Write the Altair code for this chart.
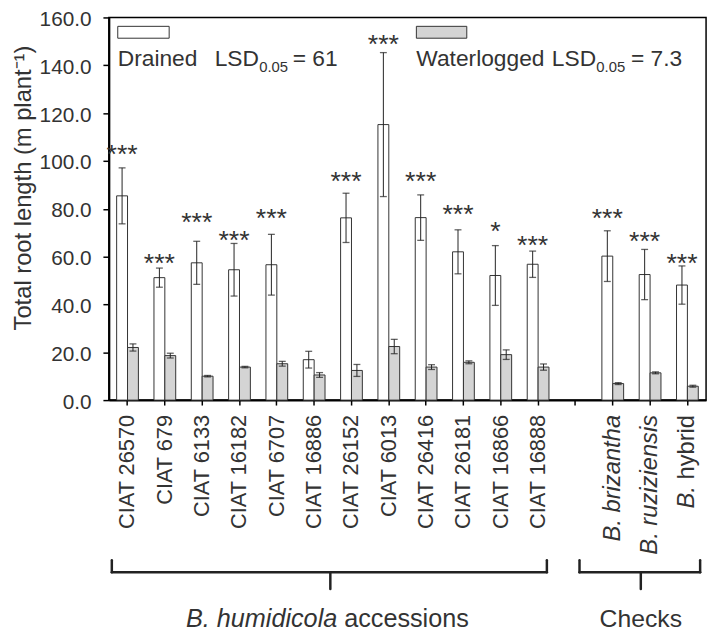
import altair as alt
import pandas as pd

categories = ["CIAT 26570", "CIAT 679", "CIAT 6133", "CIAT 16182", "CIAT 6707",
              "CIAT 16886", "CIAT 26152", "CIAT 6013", "CIAT 26416", "CIAT 26181",
              "CIAT 16866", "CIAT 16888", "B. brizantha", "B. ruziziensis", "B. hybrid"]
slots = categories[:12] + ["gap"] + categories[12:]

drained = [85.4, 51.2, 57.4, 54.5, 56.6, 16.9, 76.2, 115.2, 76.3, 62.0, 52.1, 56.8, 60.2, 52.5, 48.1]
drained_se = [11.7, 4.0, 9.0, 11.0, 12.7, 3.5, 10.3, 30.1, 9.5, 9.2, 12.5, 5.5, 10.6, 10.5, 8.0]
waterlogged = [22.0, 18.6, 10.0, 13.8, 15.2, 10.5, 12.4, 22.4, 13.8, 15.8, 19.0, 13.8, 6.9, 11.4, 5.8]
waterlogged_se = [1.5, 1.0, 0.3, 0.3, 1.0, 1.0, 2.5, 3.0, 1.0, 0.6, 2.0, 1.3, 0.4, 0.4, 0.4]
stars = ["***"] * 5 + [""] + ["***"] * 4 + ["*", "***"] + ["***"] * 3
star_y = [105.4, 59.8, 77.0, 69.5, 78.4, 0, 94.0, 151.2, 93.9, 80.4, 73.3, 67.3, 78.4, 69.0, 59.8]

treatments = ["Drained", "Waterlogged"]
FONT = "Liberation Sans"
TXT = "#333333"
W, H = 604, 387

rows = []
for c, d, ds, w, ws in zip(categories, drained, drained_se, waterlogged, waterlogged_se):
    rows.append({"category": c, "treatment": "Drained", "value": d, "lo": d - ds, "hi": d + ds})
    rows.append({"category": c, "treatment": "Waterlogged", "value": w, "lo": w - ws, "hi": w + ws})
df = pd.DataFrame(rows)

star_df = pd.DataFrame({"category": categories, "treatment": "Drained",
                        "stars": stars, "y": star_y})
star_df = star_df[star_df["stars"] != ""]

xscale = alt.Scale(domain=slots, paddingInner=0, paddingOuter=0)
xoff = alt.XOffset("treatment:N", scale=alt.Scale(domain=treatments, paddingOuter=0.716, paddingInner=0))
yscale = alt.Scale(domain=[0, 160], nice=False)

x_enc = alt.X("category:N", scale=xscale,
              axis=alt.Axis(title=None, labels=False, ticks=True, tickSize=5, tickColor="black",
                            tickWidth=1.5, domainColor="black", domainWidth=2, grid=False))
y_enc = alt.Y("value:Q", scale=yscale,
              axis=alt.Axis(title="Total root length (m plant⁻¹)", values=list(range(0, 161, 20)),
                            format=".1f", grid=False, tickSize=6, tickColor="black", tickWidth=1.5,
                            domainColor="black", domainWidth=2, labelFont=FONT, labelFontSize=21,
                            labelColor=TXT, labelPadding=12, labelOffset=2,
                            titleFont=FONT, titleFontSize=24,
                            titleFontWeight="normal", titleColor=TXT, titleAngle=270,
                            titleX=-86, titleY=172, titleAlign="center", titleBaseline="middle"))

bars = alt.Chart(df).mark_bar(stroke="#333333", strokeWidth=1).encode(
    x=x_enc, xOffset=xoff, y=y_enc,
    fill=alt.Fill("treatment:N", scale=alt.Scale(domain=treatments, range=["white", "#d4d4d4"]), legend=None),
)

err = alt.Chart(df).mark_rule(color="#222222", strokeWidth=1).encode(
    x=alt.X("category:N", scale=xscale), xOffset=xoff,
    y=alt.Y("lo:Q", scale=yscale), y2="hi:Q")
cap_hi = alt.Chart(df).mark_tick(color="#222222", size=7, thickness=1.3).encode(
    x=alt.X("category:N", scale=xscale), xOffset=xoff, y=alt.Y("hi:Q", scale=yscale))
cap_lo = alt.Chart(df).mark_tick(color="#222222", size=7, thickness=1.3).encode(
    x=alt.X("category:N", scale=xscale), xOffset=xoff, y=alt.Y("lo:Q", scale=yscale))

star_text = alt.Chart(star_df).mark_text(font=FONT, fontSize=27, fill="#333333",
                                         baseline="alphabetic", dy=15).encode(
    x=alt.X("category:N", scale=xscale), xOffset=xoff, y=alt.Y("y:Q", scale=yscale), text="stars:N")

# x tick labels
lab_df = pd.DataFrame({"category": categories,
                       "label": categories[:14] + ["hybrid"]})
LY = H + 15
xlab_ciat = alt.Chart(lab_df.iloc[:12]).mark_text(
    font=FONT, fontSize=22, color=TXT, angle=270, align="right", baseline="middle").encode(
    x=alt.X("category:N", scale=xscale), y=alt.value(LY), text="label:N")
xlab_ital = alt.Chart(lab_df.iloc[12:14]).mark_text(
    font=FONT, fontSize=24, fontStyle="italic", color=TXT, angle=270, align="right", baseline="middle").encode(
    x=alt.X("category:N", scale=xscale), y=alt.value(LY), text="label:N")
xlab_hyb = alt.Chart(lab_df.iloc[14:]).mark_text(
    font=FONT, fontSize=24, color=TXT, angle=270, align="right", baseline="middle").encode(
    x=alt.X("category:N", scale=xscale), y=alt.value(LY), text="label:N")
b_df = pd.DataFrame({"category": ["B. hybrid"], "label": ["B."]})
xlab_b = alt.Chart(b_df).mark_text(
    font=FONT, fontSize=24, fontStyle="italic", color=TXT, angle=270, align="right", baseline="middle").encode(
    x=alt.X("category:N", scale=xscale), y=alt.value(LY + 72), text="label:N")

one = pd.DataFrame({"a": [0]})

def rule(x1, x2, y1, y2, w=2.5):
    return alt.Chart(one).mark_rule(color="#222222", strokeWidth=w, strokeCap="round").encode(
        x=alt.value(x1), x2=alt.value(x2), y=alt.value(y1), y2=alt.value(y2))

def bracket(x1, x2, xm, yb):
    return [rule(x1, x2, yb, yb), rule(x1, x1, yb - 12, yb), rule(x2, x2, yb - 12, yb),
            rule(xm, xm, yb, yb + 17)]

brackets = bracket(3, 443, 224, 561) + bracket(476, 598, 538, 561)

def txt(x, y, s, size=23, style="normal", align="left"):
    return alt.Chart(one).mark_text(font=FONT, fontSize=size, fontStyle=style, color=TXT,
                                    align=align, baseline="alphabetic").encode(
        x=alt.value(x), y=alt.value(y), text=alt.value(s))

group_text = [txt(231, 616, "B. humidicola", 25.5, "italic", "right"),
              txt(238, 616, "accessions", 25.5),
              txt(538, 616, "Checks", 25, align="center")]

legend_rects = [
    alt.Chart(one).mark_rect(fill="white", stroke="#333333", strokeWidth=1).encode(
        x=alt.value(9), x2=alt.value(61), y=alt.value(9), y2=alt.value(21)),
    alt.Chart(one).mark_rect(fill="#d4d4d4", stroke="#333333", strokeWidth=1).encode(
        x=alt.value(311), x2=alt.value(362), y=alt.value(9), y2=alt.value(21)),
]
legend_text = [txt(9, 49, "Drained"), txt(107, 49, "LSD"), txt(152, 55, "0.05", 15), txt(186, 49, "= 61"),
               txt(311, 49, "Waterlogged"), txt(448, 49, "LSD"), txt(493, 55, "0.05", 15),
               txt(528, 49, "= 7.3")]

chart = alt.layer(bars, err, cap_hi, cap_lo, star_text, xlab_ciat, xlab_ital, xlab_hyb, xlab_b,
                  *brackets, *group_text, *legend_rects, *legend_text).properties(
    width=W, height=H,
    autosize=alt.AutoSizeParams(type="none"),
    padding={"left": 102, "top": 6, "right": 6, "bottom": 232},
).configure_view(stroke="black", strokeWidth=1.5)

chart.save("out.html", embed_options={"renderer": "svg", "actions": False})
